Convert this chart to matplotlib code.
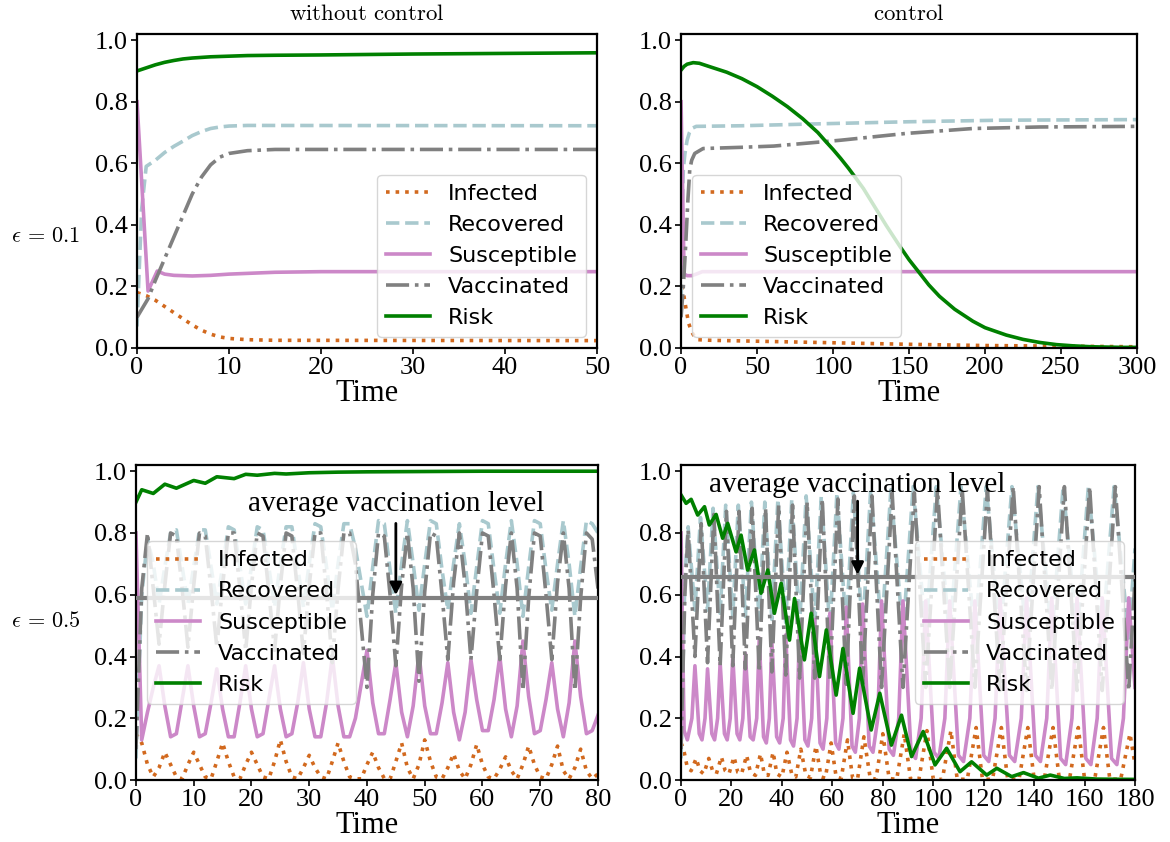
import numpy as np
import matplotlib
matplotlib.use('Agg')
import matplotlib.pyplot as plt

plt.rcParams['font.family'] = ['Liberation Serif', 'DejaVu Serif']
plt.rcParams['mathtext.fontset'] = 'cm'

C_I = '#D2691E'
C_R = '#A9C9CE'
C_S = '#CC88C8'
C_V = '#808080'
C_K = '#008000'
LW = 2.6

# ---------------- top-left: without control, eps = 0.1 ----------------
tl_I_t = [0, 1, 2, 3, 4, 5, 6, 7, 8, 9, 10, 12, 15, 50]
tl_I = [0.18, 0.17, 0.155, 0.135, 0.115, 0.095, 0.075, 0.058, 0.045, 0.036, 0.031, 0.027, 0.025, 0.024]
tl_R_t = [0, 0.5, 1, 1.5, 2, 3, 4, 5, 6, 7, 8, 9, 10, 12, 50]
tl_R = [0.07, 0.45, 0.59, 0.60, 0.61, 0.635, 0.655, 0.672, 0.69, 0.703, 0.713, 0.718, 0.721, 0.723, 0.722]
tl_S_t = [0, 1.2, 2.2, 3, 4, 6, 8, 10, 15, 20, 50]
tl_S = [0.80, 0.185, 0.25, 0.24, 0.236, 0.234, 0.236, 0.24, 0.246, 0.248, 0.248]
tl_V_t = [0, 1.2, 2, 3, 4, 5, 6, 7, 8, 9, 10, 12, 15, 50]
tl_V = [0.10, 0.16, 0.22, 0.29, 0.36, 0.43, 0.50, 0.555, 0.595, 0.62, 0.632, 0.641, 0.645, 0.645]
tl_K_t = [0, 1, 2, 3, 4, 5, 6, 8, 10, 12, 15, 20, 30, 40, 50]
tl_K = [0.90, 0.91, 0.92, 0.928, 0.934, 0.939, 0.942, 0.946, 0.948, 0.950, 0.951, 0.952, 0.955, 0.957, 0.959]

# ---------------- top-right: control, eps = 0.1 ----------------
tr_I_t = [0, 1.5, 3.7, 5, 7, 9, 11, 20, 60, 100, 150, 200, 250, 300]
tr_I = [0.20, 0.18, 0.115, 0.08, 0.053, 0.035, 0.027, 0.025, 0.021, 0.017, 0.012, 0.008, 0.006, 0.004]
tr_R_t = [0, 0.7, 1.5, 2.5, 4, 5.5, 7, 10, 40, 80, 150, 210, 300]
tr_R = [0.10, 0.45, 0.58, 0.63, 0.675, 0.70, 0.713, 0.72, 0.722, 0.727, 0.735, 0.740, 0.742]
tr_S_t = [0, 2, 4, 7, 10, 14, 300]
tr_S = [0.80, 0.24, 0.235, 0.235, 0.24, 0.248, 0.248]
tr_V_t = [0, 1.5, 3, 4.5, 5.7, 7, 9, 14.5, 40, 61, 105, 148, 192, 236, 300]
tr_V = [0.10, 0.20, 0.33, 0.48, 0.578, 0.61, 0.632, 0.648, 0.652, 0.656, 0.675, 0.697, 0.713, 0.718, 0.72]
tr_K_t = [0, 2, 4, 8, 12, 20, 30, 40, 50, 60, 70, 80, 90, 95, 100, 105, 110, 115, 120, 127, 135, 144,
          150, 157, 163, 170, 180, 192, 200, 214, 225, 236, 247, 258, 270, 280, 290, 300]
tr_K = [0.903, 0.915, 0.922, 0.927, 0.925, 0.912, 0.896, 0.875, 0.849, 0.818, 0.784, 0.745, 0.700, 0.672,
        0.645, 0.616, 0.585, 0.552, 0.518, 0.462, 0.398, 0.330, 0.287, 0.243, 0.205, 0.168, 0.126, 0.087,
        0.066, 0.042, 0.028, 0.018, 0.011, 0.007, 0.004, 0.003, 0.002, 0.002]

# ---------------- bottom-left: without control, eps = 0.5 (t = 0..80) ----------------
bl_S = [0.80, 0.13, 0.22, 0.30, 0.37, 0.24, 0.14, 0.15, 0.26, 0.37,
        0.24, 0.14, 0.15, 0.25, 0.36, 0.23, 0.14, 0.14, 0.25, 0.37,
        0.23, 0.14, 0.15, 0.26, 0.37, 0.23, 0.14, 0.15, 0.25, 0.38,
        0.23, 0.14, 0.14, 0.25, 0.40, 0.24, 0.14, 0.14, 0.20, 0.31,
        0.42, 0.25, 0.15, 0.15, 0.26, 0.38, 0.22, 0.14, 0.24, 0.41,
        0.24, 0.15, 0.15, 0.25, 0.38, 0.22, 0.13, 0.22, 0.39, 0.26,
        0.16, 0.16, 0.26, 0.40, 0.23, 0.14, 0.24, 0.45, 0.27, 0.15,
        0.16, 0.26, 0.38, 0.23, 0.14, 0.25, 0.45, 0.27, 0.15, 0.16, 0.21]
bl_V = [0.10, 0.62, 0.80, 0.62, 0.44, 0.63, 0.80, 0.79, 0.62, 0.43,
        0.63, 0.80, 0.79, 0.62, 0.43, 0.63, 0.80, 0.80, 0.62, 0.42,
        0.63, 0.80, 0.79, 0.61, 0.42, 0.63, 0.80, 0.79, 0.61, 0.41,
        0.63, 0.80, 0.80, 0.61, 0.38, 0.62, 0.80, 0.80, 0.70, 0.50,
        0.30, 0.60, 0.80, 0.79, 0.60, 0.37, 0.63, 0.80, 0.62, 0.32,
        0.61, 0.80, 0.79, 0.60, 0.39, 0.64, 0.80, 0.63, 0.39, 0.61,
        0.80, 0.79, 0.60, 0.39, 0.63, 0.80, 0.62, 0.29, 0.59, 0.80,
        0.79, 0.60, 0.39, 0.64, 0.80, 0.62, 0.29, 0.59, 0.80, 0.78, 0.62]
bl_R = [0.07, 0.60, 0.78, 0.70, 0.57, 0.69, 0.80, 0.81, 0.69, 0.57,
        0.69, 0.81, 0.81, 0.69, 0.57, 0.69, 0.82, 0.81, 0.69, 0.57,
        0.69, 0.82, 0.81, 0.69, 0.56, 0.70, 0.82, 0.82, 0.69, 0.56,
        0.70, 0.83, 0.82, 0.69, 0.55, 0.70, 0.83, 0.83, 0.75, 0.64,
        0.53, 0.69, 0.84, 0.83, 0.68, 0.54, 0.70, 0.84, 0.70, 0.55,
        0.70, 0.84, 0.83, 0.68, 0.55, 0.70, 0.83, 0.70, 0.54, 0.69,
        0.84, 0.83, 0.68, 0.54, 0.70, 0.84, 0.70, 0.53, 0.69, 0.84,
        0.83, 0.68, 0.55, 0.70, 0.84, 0.70, 0.53, 0.69, 0.84, 0.83, 0.80]
bl_I = [0.15, 0.12, 0.05, 0.01, 0.04, 0.09, 0.05, 0.01, 0.004, 0.05,
        0.09, 0.05, 0.01, 0.004, 0.06, 0.12, 0.06, 0.01, 0.004, 0.05,
        0.09, 0.05, 0.01, 0.004, 0.06, 0.13, 0.06, 0.01, 0.004, 0.04,
        0.08, 0.04, 0.01, 0.004, 0.06, 0.12, 0.06, 0.01, 0.004, 0.004,
        0.05, 0.09, 0.04, 0.005, 0.003, 0.06, 0.12, 0.04, 0.004, 0.05,
        0.13, 0.06, 0.01, 0.004, 0.04, 0.085, 0.03, 0.004, 0.05, 0.115,
        0.05, 0.01, 0.004, 0.035, 0.075, 0.03, 0.004, 0.05, 0.11, 0.05,
        0.01, 0.004, 0.05, 0.11, 0.03, 0.004, 0.04, 0.10, 0.03, 0.004, 0.02]
bl_K_t = [0, 1, 3, 5, 7, 10, 12, 14, 17, 19, 21, 24, 26, 30, 35, 40, 50, 60, 80]
bl_K = [0.90, 0.94, 0.928, 0.958, 0.945, 0.97, 0.961, 0.982, 0.976, 0.99, 0.987, 0.993, 0.991, 0.995,
        0.997, 0.998, 0.999, 1.0, 1.0]
bl_avg = 0.59
bl_arrow_t = 45

# ---------------- bottom-right: control, eps = 0.5 (t = 0..180) ----------------
br_S_t = [0, 1.2, 2.5, 4.3, 5.5, 7.2, 8.3, 9.5, 10.5, 12.2, 13.3, 14.5, 15.5, 17.2, 18.3, 19.5, 20.5,
          22.2, 23.3, 24.5, 25.5, 27.4, 28.6, 30, 31, 32.7, 33.8, 35, 36, 37.9, 39.1, 40.5, 41.5,
          43.4, 44.6, 46, 47, 49.1, 50.3, 51.8, 53, 55.1, 56.3, 57.8, 59, 61.3, 62.6, 64.2, 65.5,
          67.8, 69.1, 70.7, 72, 74.6, 76.1, 78, 79.5, 82.5, 84.2, 86.3, 88, 91.2, 93, 95.2, 97,
          100.3, 102.2, 104.6, 106.5, 110, 112, 114.5, 116.5, 120, 122, 124.5, 126.5, 130.2, 132.3,
          134.9, 137, 140.5, 142.5, 145, 147, 150.5, 152.5, 155, 157, 160.5, 162.5, 165, 167, 170.7,
          172.8, 175.4, 177.5, 180]
br_S = [0.80, 0.16, 0.13, 0.20, 0.37, 0.15, 0.13, 0.20, 0.36, 0.15, 0.13, 0.20, 0.38, 0.15, 0.13, 0.20, 0.40,
        0.15, 0.13, 0.20, 0.41, 0.14, 0.13, 0.20, 0.46, 0.14, 0.12, 0.20, 0.45, 0.14, 0.12, 0.20, 0.47,
        0.13, 0.11, 0.20, 0.51, 0.13, 0.11, 0.20, 0.52, 0.12, 0.10, 0.20, 0.54, 0.12, 0.10, 0.20, 0.56,
        0.11, 0.09, 0.20, 0.57, 0.11, 0.09, 0.20, 0.58, 0.10, 0.08, 0.20, 0.58, 0.09, 0.07, 0.20, 0.58,
        0.09, 0.07, 0.20, 0.58, 0.08, 0.06, 0.20, 0.58, 0.08, 0.06, 0.20, 0.59, 0.08, 0.06,
        0.20, 0.59, 0.08, 0.06, 0.20, 0.59, 0.07, 0.05, 0.20, 0.59, 0.07, 0.05, 0.20, 0.59, 0.07,
        0.05, 0.20, 0.59, 0.30]
br_V_t = [0, 1.5, 2.8, 5.5, 8, 10.5, 13, 15.5, 18, 20.5, 23, 25.5, 28.2, 31, 33.5, 36, 38.7, 41.5, 44.2,
          47, 50, 53, 56, 59, 62.2, 65.5, 68.7, 72, 75.7, 79.5, 83.7, 88, 92.5, 97, 101.7, 106.5, 111.5,
          116.5, 121.5, 126.5, 131.7, 137, 142, 147, 152, 157, 162, 167, 172.2, 177.5, 180]
br_V = [0.10, 0.60, 0.81, 0.40, 0.83, 0.38, 0.86, 0.37, 0.87, 0.37, 0.87, 0.36, 0.88, 0.35, 0.88, 0.35, 0.89,
        0.34, 0.89, 0.33, 0.90, 0.33, 0.91, 0.32, 0.91, 0.31, 0.92, 0.31, 0.92, 0.30, 0.93, 0.30, 0.93,
        0.30, 0.94, 0.30, 0.94, 0.30, 0.94, 0.29, 0.95, 0.29, 0.95, 0.29, 0.95, 0.29, 0.95, 0.29, 0.95,
        0.29, 0.65]
br_R_t = [0, 1.5, 2.8, 5.5, 7.7, 10.5, 12.7, 15.5, 17.7, 20.5, 22.7, 25.5, 27.9, 31, 33.2, 36, 38.4, 41.5,
          43.9, 47, 49.6, 53, 55.6, 59, 61.8, 65.5, 68.3, 72, 75.2, 79.5, 83.2, 88, 92, 97, 101.2, 106.5,
          111, 116.5, 121, 126.5, 131.2, 137, 141.5, 147, 151.5, 157, 161.5, 167, 171.7, 177.5, 180]
br_R = [0.07, 0.65, 0.82, 0.55, 0.85, 0.55, 0.88, 0.54, 0.89, 0.53, 0.89, 0.53, 0.90, 0.52, 0.90, 0.52, 0.91,
        0.51, 0.91, 0.50, 0.92, 0.50, 0.92, 0.49, 0.93, 0.49, 0.93, 0.48, 0.94, 0.48, 0.94, 0.47, 0.95,
        0.47, 0.95, 0.46, 0.95, 0.46, 0.95, 0.46, 0.95, 0.46, 0.95, 0.46, 0.95, 0.46, 0.95, 0.46, 0.95,
        0.46, 0.75]
br_I_t = [0, 1, 2.5, 4, 6, 7.5, 9, 11, 12.5, 14, 16, 17.5, 19, 21, 22.5, 24, 26, 27.5, 29.5, 31.5, 33,
          34.5, 36.5, 38, 40, 42, 44, 45.5, 47.5, 49.5, 51.3, 53.5, 55.5, 57.2, 59.5, 61.5, 63.5, 66, 68,
          70, 72.5, 75, 77.3, 80, 82.5, 85.5, 88.5, 91, 94.3, 97.5, 100, 103.6, 107, 109.5, 113.5, 117,
          119.5, 123.5, 127, 129.5, 134, 137.5, 140, 144, 147.5, 150, 154, 157.5, 160, 164, 167.5, 170,
          174.3, 178, 180]
br_I = [0.12, 0.10, 0.04, 0.03, 0.07, 0.03, 0.02, 0.07, 0.03, 0.02, 0.075, 0.03, 0.02, 0.075, 0.025, 0.02,
        0.08, 0.025, 0.015, 0.085, 0.02, 0.015, 0.09, 0.02, 0.01, 0.09, 0.015, 0.01, 0.10, 0.015, 0.008,
        0.11, 0.01, 0.006, 0.12, 0.01, 0.005, 0.13, 0.008, 0.004, 0.14, 0.006, 0.003, 0.15, 0.005, 0.002,
        0.15, 0.004, 0.002, 0.16, 0.003, 0.002, 0.16, 0.003, 0.002, 0.17, 0.003, 0.002, 0.17, 0.003,
        0.002, 0.17, 0.003, 0.002, 0.17, 0.003, 0.002, 0.17, 0.003, 0.002, 0.17, 0.003, 0.002, 0.15, 0.05]
br_K_t = [0, 2, 4, 6.6, 9.3, 11.2, 13.9, 16.5, 18.5, 21.8, 23.8, 26.4, 29.1, 31.7, 34.4, 37, 39.7, 43,
          45, 48.9, 51.6, 54.9, 57.6, 61.5, 64.2, 68.2, 70.8, 75.4, 78.8, 83.4, 87.4, 91.4, 96, 100.7,
          105.3, 110.6, 115.2, 121.2, 125.2, 131.1, 135.8, 141.7, 146.4, 152, 157, 165, 180]
br_K = [0.923, 0.896, 0.909, 0.858, 0.885, 0.826, 0.860, 0.783, 0.831, 0.739, 0.793, 0.680, 0.745, 0.605,
        0.680, 0.540, 0.637, 0.453, 0.588, 0.389, 0.540, 0.335, 0.486, 0.275, 0.426, 0.216, 0.362, 0.162,
        0.281, 0.113, 0.210, 0.076, 0.157, 0.049, 0.103, 0.027, 0.059, 0.016, 0.038, 0.011, 0.024, 0.006,
        0.016, 0.005, 0.007, 0.003, 0.002]
br_avg = 0.656
br_arrow_t = 70

x_ticks_tl = [0, 10, 20, 30, 40, 50]
x_ticks_tr = [0, 50, 100, 150, 200, 250, 300]
x_ticks_bl = [0, 10, 20, 30, 40, 50, 60, 70, 80]
x_ticks_br = [0, 20, 40, 60, 80, 100, 120, 140, 160, 180]
y_ticks = [0.0, 0.2, 0.4, 0.6, 0.8, 1.0]

fig = plt.figure(figsize=(11.7, 8.42), dpi=100)
ax_tl = fig.add_axes([0.1171, 0.5867, 0.3932, 0.3729])
ax_tr = fig.add_axes([0.5821, 0.5867, 0.3897, 0.3729])
ax_bl = fig.add_axes([0.1162, 0.0736, 0.3949, 0.3741])
ax_br = fig.add_axes([0.5821, 0.0736, 0.3880, 0.3741])


def draw(ax, I, R, S, V, K):
    ax.plot(I[0], I[1], color=C_I, ls=':', lw=LW, label='Infected')
    ax.plot(R[0], R[1], color=C_R, ls='--', lw=LW, label='Recovered')
    ax.plot(S[0], S[1], color=C_S, ls='-', lw=LW, label='Susceptible')
    ax.plot(V[0], V[1], color=C_V, ls='-.', lw=LW, label='Vaccinated')
    ax.plot(K[0], K[1], color=C_K, ls='-', lw=LW, label='Risk')


def style(ax, xmax, xticks, loc):
    ax.set_xlim(0, xmax)
    ax.set_ylim(0, 1.02)
    ax.set_xticks(xticks)
    ax.set_yticks(y_ticks)
    ax.set_yticklabels(['%.1f' % v for v in y_ticks])
    ax.tick_params(labelsize=19, width=1.2, length=4, pad=2.5)
    for s in ax.spines.values():
        s.set_linewidth(1.6)
    ax.set_xlabel('Time', fontsize=22, labelpad=0)
    ax.legend(loc=loc, prop={'family': 'DejaVu Sans', 'size': 16})


draw(ax_tl, (tl_I_t, tl_I), (tl_R_t, tl_R), (tl_S_t, tl_S), (tl_V_t, tl_V), (tl_K_t, tl_K))
draw(ax_tr, (tr_I_t, tr_I), (tr_R_t, tr_R), (tr_S_t, tr_S), (tr_V_t, tr_V), (tr_K_t, tr_K))
t_bl = np.arange(len(bl_S))
draw(ax_bl, (t_bl, bl_I), (t_bl, bl_R), (t_bl, bl_S), (t_bl, bl_V), (bl_K_t, bl_K))
draw(ax_br, (br_I_t, br_I), (br_R_t, br_R), (br_S_t, br_S), (br_V_t, br_V), (br_K_t, br_K))

for ax, avg, at, ytop, ytext in [(ax_bl, bl_avg, bl_arrow_t, 0.84, 0.87),
                                 (ax_br, br_avg, br_arrow_t, 0.912, 0.932)]:
    ax.axhline(avg, color='gray', lw=3, zorder=3)
    ax.annotate('', xy=(at, avg), xytext=(at, ytop),
                arrowprops=dict(arrowstyle='-|>', color='black', lw=2, mutation_scale=18), zorder=4)
    ax.text(at, ytext, 'average vaccination level', ha='center', va='baseline', fontsize=21, zorder=4)

style(ax_tl, 50, x_ticks_tl, 'lower right')
style(ax_tr, 300, x_ticks_tr, 'lower left')
style(ax_bl, 80, x_ticks_bl, 'center left')
style(ax_br, 180, x_ticks_br, 'center right')

ax_tl.set_title(r'$\mathrm{without\ control}$', fontsize=16.5, pad=10)
ax_tr.set_title(r'$\mathrm{control}$', fontsize=16.5, pad=10)
fig.text(46 / 1170, 1 - 237 / 842, r'$\epsilon\,=\,0.1$', fontsize=16, ha='center', va='center')
fig.text(46 / 1170, 1 - 622 / 842, r'$\epsilon\,=\,0.5$', fontsize=16, ha='center', va='center')

fig.savefig('out.png', dpi=100)
